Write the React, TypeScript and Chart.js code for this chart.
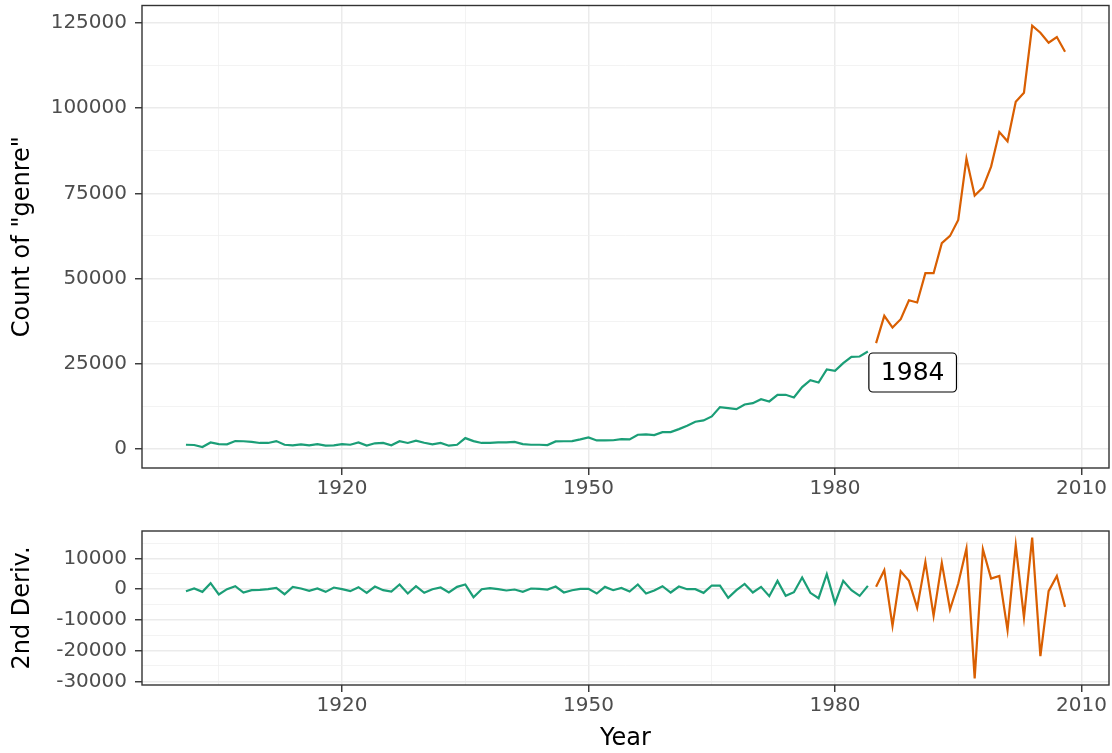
import React, { useEffect, useRef } from 'react';
import { Chart, registerables } from 'chart.js';

Chart.register(...registerables);

const years = [
  1901, 1902, 1903, 1904, 1905, 1906, 1907, 1908, 1909, 1910,
  1911, 1912, 1913, 1914, 1915, 1916, 1917, 1918, 1919, 1920,
  1921, 1922, 1923, 1924, 1925, 1926, 1927, 1928, 1929, 1930,
  1931, 1932, 1933, 1934, 1935, 1936, 1937, 1938, 1939, 1940,
  1941, 1942, 1943, 1944, 1945, 1946, 1947, 1948, 1949, 1950,
  1951, 1952, 1953, 1954, 1955, 1956, 1957, 1958, 1959, 1960,
  1961, 1962, 1963, 1964, 1965, 1966, 1967, 1968, 1969, 1970,
  1971, 1972, 1973, 1974, 1975, 1976, 1977, 1978, 1979, 1980,
  1981, 1982, 1983, 1984, 1985, 1986, 1987, 1988, 1989, 1990,
  1991, 1992, 1993, 1994, 1995, 1996, 1997, 1998, 1999, 2000,
  2001, 2002, 2003, 2004, 2005, 2006, 2007, 2008,
];

const genreCount = [
  1174, 1100, 500, 1850, 1380, 1300, 2250, 2200, 2000, 1700,
  1700, 2250, 1180, 1000, 1300, 1000, 1380, 900, 1000, 1380,
  1180, 1850, 950, 1600, 1700, 1000, 2200, 1700, 2400, 1750,
  1300, 1700, 900, 1180, 3130, 2250, 1700, 1700, 1850, 1850,
  2000, 1380, 1180, 1170, 1080, 2150, 2200, 2250, 2740, 3330,
  2450, 2450, 2500, 2830, 2740, 4110, 4200, 4010, 4890, 4890,
  5770, 6750, 7920, 8310, 9490, 12230, 11930, 11640, 13000, 13400,
  14570, 13890, 15850, 15850, 15060, 18100, 20150, 19460, 23280, 22890,
  25140, 27000, 27090, 28550, 31010, 39030, 35600, 38050, 43620, 42940,
  51550, 51550, 60350, 62500, 67190, 85190, 74330, 76690, 82840, 93020,
  90280, 101910, 104550, 124210, 122160, 119220, 120890, 116590,
];

const secondDeriv = [
  -650, 217, -870, 1950, -1730, 0, 980, -1080, -330, -220,
  0, 430, -1630, 760, 220, -540, 220, -870, 540, 0,
  -650, 650, -1190, 870, -330, -760, 1520, -1410, 980, -1190,
  0, 540, -1080, 760, 1520, -2600, 0, 330, 0, -430,
  -110, -870, 220, 110, -110, 870, -1080, -330, 110, 110,
  -1410, 760, -330, 430, -760, 1520, -1410, -430, 980, -1080,
  870, 0, 0, -1190, 1190, 1190, -2820, -330, 1730, -1080,
  760, -2280, 2710, -2170, -980, 3800, -1190, -2930, 4880, -4550,
  2710, -330, -2170, 1080, 760, 6180, -11930, 5850, 2710, -6070,
  8890, -8670, 8560, -6610, 1840, 13220, -29050, 13000, 3470, 4340,
  -13330, 14300, -9210, 16800, -21790, -650, 4340, -5750,
];

const splitYear = 1984;
const labelText = '1984';

const xMajorTicks = [1920, 1950, 1980, 2010];
const xMinorTicks = [1905, 1935, 1965, 1995];
const countMajorTicks = [0, 25000, 50000, 75000, 100000, 125000];
const countMinorTicks = [12500, 37500, 62500, 87500, 112500];
const derivMajorTicks = [-30000, -20000, -10000, 0, 10000];
const derivMinorTicks = [-25000, -15000, -5000, 5000, 15000];

const GREEN = '#1B9E77';
const ORANGE = '#D95F02';
const FONT = "'DejaVu Sans', sans-serif";

function buildSeries(values: number[]) {
  const early = years
    .map((y, i) => ({ x: y, y: values[i] }))
    .filter((p) => p.x <= splitYear);
  const late = years
    .map((y, i) => ({ x: y, y: values[i] }))
    .filter((p) => p.x > splitYear);
  return [early, late];
}

function isMinor(minors: number[], ctx: any) {
  return ctx && ctx.tick && minors.includes(ctx.tick.value);
}

function makeAxis(
  majors: number[],
  minors: number[],
  min: number,
  max: number,
  fitSize: number,
  horizontal: boolean,
  title?: { text: string; padding: any }
) {
  return {
    type: 'linear',
    min,
    max,
    afterBuildTicks: (scale: any) => {
      scale.ticks = [...majors, ...minors]
        .sort((a, b) => a - b)
        .map((v) => ({ value: v }));
    },
    afterFit: (scale: any) => {
      if (horizontal) scale.height = fitSize;
      else scale.width = fitSize;
      scale.paddingTop = 0;
      scale.paddingBottom = 0;
      scale.paddingLeft = 0;
      scale.paddingRight = 0;
    },
    border: { display: false },
    grid: {
      color: (ctx: any) => (isMinor(minors, ctx) ? '#F0F0F0' : '#EBEBEB'),
      lineWidth: (ctx: any) => (isMinor(minors, ctx) ? 0.8 : 1.5),
      tickColor: (ctx: any) => (isMinor(minors, ctx) ? 'rgba(0,0,0,0)' : '#333333'),
      tickWidth: 1.4,
      tickLength: 7,
      drawTicks: true,
    },
    ticks: {
      autoSkip: false,
      maxRotation: 0,
      minRotation: 0,
      padding: horizontal ? 2 : 8,
      color: '#4D4D4D',
      font: { family: FONT, size: 20 },
      callback: (value: any) => (majors.includes(Number(value)) ? String(value) : ''),
    },
    title: title
      ? {
          display: true,
          text: title.text,
          color: '#000000',
          font: { family: FONT, size: 24 },
          padding: title.padding,
        }
      : { display: false },
  };
}

const framePlugin = {
  id: 'panelFrame',
  afterDatasetsDraw(chart: any) {
    const { ctx, chartArea } = chart;
    ctx.save();
    ctx.strokeStyle = '#333333';
    ctx.lineWidth = 1.4;
    ctx.strokeRect(
      chartArea.left,
      chartArea.top,
      chartArea.right - chartArea.left,
      chartArea.bottom - chartArea.top
    );
    ctx.restore();
  },
};

const yearLabelPlugin = {
  id: 'yearLabel',
  afterDraw(chart: any) {
    const { ctx, scales } = chart;
    const idx = years.indexOf(splitYear);
    const px = scales.x.getPixelForValue(splitYear);
    const py = scales.y.getPixelForValue(genreCount[idx]);
    ctx.save();
    ctx.font = `25px ${FONT}`;
    const tw = ctx.measureText(labelText).width;
    const padX = 12;
    const h = 39;
    const w = tw + padX * 2;
    const left = px + 1;
    const top = py + 1.5;
    const r = 4;
    ctx.beginPath();
    ctx.moveTo(left + r, top);
    ctx.lineTo(left + w - r, top);
    ctx.arcTo(left + w, top, left + w, top + r, r);
    ctx.lineTo(left + w, top + h - r);
    ctx.arcTo(left + w, top + h, left + w - r, top + h, r);
    ctx.lineTo(left + r, top + h);
    ctx.arcTo(left, top + h, left, top + h - r, r);
    ctx.lineTo(left, top + r);
    ctx.arcTo(left, top, left + r, top, r);
    ctx.closePath();
    ctx.fillStyle = '#FFFFFF';
    ctx.fill();
    ctx.strokeStyle = '#000000';
    ctx.lineWidth = 1.2;
    ctx.stroke();
    ctx.fillStyle = '#000000';
    ctx.textAlign = 'center';
    ctx.textBaseline = 'middle';
    ctx.fillText(labelText, left + w / 2, top + h / 2 + 1);
    ctx.restore();
  },
};

function lineDatasets(values: number[]) {
  const [early, late] = buildSeries(values);
  return [
    {
      data: early,
      borderColor: GREEN,
      borderWidth: 2.2,
      pointRadius: 0,
      tension: 0,
      fill: false,
    },
    {
      data: late,
      borderColor: ORANGE,
      borderWidth: 2.2,
      pointRadius: 0,
      tension: 0,
      fill: false,
    },
  ];
}

export default function App() {
  const topRef = useRef<HTMLCanvasElement>(null);
  const bottomRef = useRef<HTMLCanvasElement>(null);

  useEffect(() => {
    Chart.defaults.font.family = FONT;
    const top = new Chart(topRef.current as HTMLCanvasElement, {
      type: 'line',
      data: { datasets: lineDatasets(genreCount) as any },
      options: {
        animation: false,
        responsive: false,
        layout: { padding: { top: 5.5, right: 3, left: 0, bottom: 0 } },
        plugins: { legend: { display: false }, tooltip: { enabled: false } },
        scales: {
          x: makeAxis(xMajorTicks, xMinorTicks, 1895.65, 2013.35, 42, true) as any,
          y: makeAxis(countMajorTicks, countMinorTicks, -5650, 130150, 142, false, {
            text: 'Count of "genre"',
            padding: { top: 8, bottom: 0 },
          }) as any,
        },
      },
      plugins: [framePlugin, yearLabelPlugin],
    });
    const bottom = new Chart(bottomRef.current as HTMLCanvasElement, {
      type: 'line',
      data: { datasets: lineDatasets(secondDeriv) as any },
      options: {
        animation: false,
        responsive: false,
        layout: { padding: { top: 21, right: 3, left: 0, bottom: 0 } },
        plugins: { legend: { display: false }, tooltip: { enabled: false } },
        scales: {
          x: makeAxis(xMajorTicks, xMinorTicks, 1895.65, 2013.35, 68, true, {
            text: 'Year',
            padding: { top: 0, bottom: 0 },
          }) as any,
          y: makeAxis(derivMajorTicks, derivMinorTicks, -31200, 18950, 142, false, {
            text: '2nd Deriv.',
            padding: { top: 8, bottom: 0 },
          }) as any,
        },
      },
      plugins: [framePlugin],
    });
    return () => {
      top.destroy();
      bottom.destroy();
    };
  }, []);

  return (
    <div
      style={{
        position: 'absolute',
        left: 0,
        top: 0,
        width: 1112,
        height: 753,
        background: '#FFFFFF',
      }}
    >
      <canvas
        ref={topRef}
        width={1112}
        height={510}
        style={{ position: 'absolute', left: 0, top: 0, width: 1112, height: 510 }}
      />
      <canvas
        ref={bottomRef}
        width={1112}
        height={243}
        style={{ position: 'absolute', left: 0, top: 510, width: 1112, height: 243 }}
      />
    </div>
  );
}
